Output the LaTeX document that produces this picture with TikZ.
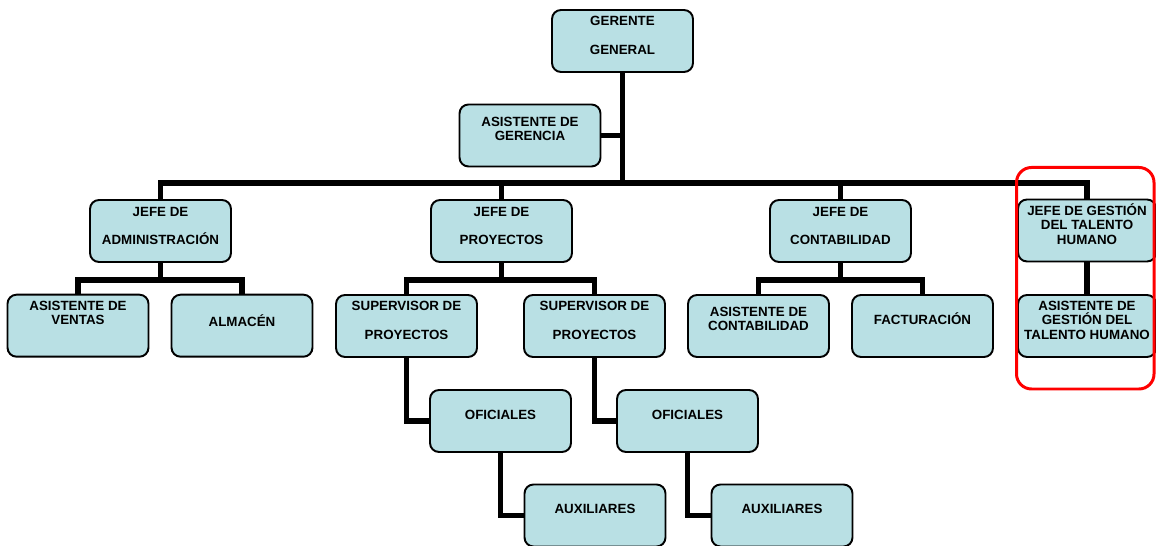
\documentclass[tikz,border=0pt]{standalone}
\usepackage{fontspec}
\setmainfont{Liberation Sans}
\usetikzlibrary{positioning, calc}
\definecolor{boxblue}{RGB}{185,224,228}
\tikzset{
    orgchart/.style={x=0.02cm, y=-0.02cm, line join=miter},
    box/.style={draw, fill=boxblue, rounded corners=0.18cm, line width=1.1pt,
        minimum width=2.82cm, minimum height=1.24cm, inner sep=0pt, align=center,
        font=\bfseries\fontsize{7.6}{8.2}\selectfont},
    wide/.style={font=\bfseries\fontsize{7.6}{16.4}\selectfont},
    lift/.style={text depth=#1},
    link/.style={line width=3.4pt},
    % red frame round the talento humano group
    highlight/.style={draw=red, line width=1.7pt, rounded corners=0.3cm},
}

\begin{document}
\begin{tikzpicture}[orgchart]
    \useasboundingbox (0,0) rectangle (1156,546);

    \node[box, wide, lift=0.24cm] (gg)   at (622.5,41)   {GERENTE\\GENERAL};
    \node[box, lift=0.26cm]       (asg)  at (530,135.5)  {ASISTENTE DE\\GERENCIA};

    \node[box, wide, lift=0.2cm]  (jadm) at (160.5,231)  {JEFE DE\\ADMINISTRACIÓN};
    \node[box, wide, lift=0.2cm]  (jpro) at (501.5,231)  {JEFE DE\\PROYECTOS};
    \node[box, wide, lift=0.2cm]  (jcon) at (840.5,231)  {JEFE DE\\CONTABILIDAD};
    \node[box, minimum width=2.76cm, lift=0.26cm] (jgth) at (1087,230.5) {JEFE DE GESTIÓN\\DEL TALENTO\\HUMANO};

    \node[box, lift=0.52cm]       (avta) at (78,325.7)   {ASISTENTE DE\\VENTAS};
    \node[box, lift=0.22cm]       (alm)  at (242,325.7)  {ALMACÉN};
    \node[box, wide, lift=0.24cm] (sup1) at (406.5,326)  {SUPERVISOR DE\\PROYECTOS};
    \node[box, wide, lift=0.24cm] (sup2) at (594.5,326)  {SUPERVISOR DE\\PROYECTOS};
    \node[box, lift=0.28cm]       (acon) at (758.5,326)  {ASISTENTE DE\\CONTABILIDAD};
    \node[box, lift=0.3cm]        (fac)  at (922.5,326)  {FACTURACIÓN};
    \node[box, minimum width=2.76cm, lift=0.24cm] (agth) at (1087,326) {ASISTENTE DE\\GESTIÓN DEL\\TALENTO HUMANO};

    \node[box, lift=0.24cm]       (ofi1) at (500.5,421)  {OFICIALES};
    \node[box, lift=0.24cm]       (ofi2) at (687.5,421)  {OFICIALES};
    \node[box, lift=0.26cm]       (aux1) at (595,515.5)  {AUXILIARES};
    \node[box, lift=0.26cm]       (aux2) at (782,515.5)  {AUXILIARES};

    % main trunk and bus
    \coordinate (bus) at (623,183);
    \draw[link] (gg.south) -- (gg.south |- bus);
    \draw[link] (asg.east) -- (asg.east -| gg.south);
    \draw[link] (jadm.north) |- (bus) -| (jgth.north);
    \draw[link] (jpro.north) -- (jpro.north |- bus);
    \draw[link] (jcon.north) -- (jcon.north |- bus);

    % second level
    \draw[link] (jadm.south) -- ++(0,17);
    \draw[link] (avta.north) |- ($(jadm.south)+(0,17)$) -| (alm.north);
    \draw[link] (jpro.south) -- ++(0,17);
    \draw[link] (sup1.north) |- ($(jpro.south)+(0,17)$) -| (sup2.north);
    \draw[link] (jcon.south) -- ++(0,17);
    \draw[link] (acon.north) |- ($(jcon.south)+(0,17)$) -| (fac.north);
    \draw[link] (jgth.south) -- (agth.north);

    % steps below the supervisors
    \draw[link] (sup1.south) |- (ofi1.west);
    \draw[link] (ofi1.south) |- (aux1.west);
    \draw[link] (sup2.south) |- (ofi2.west);
    \draw[link] (ofi2.south) |- (aux2.west);

    \draw[highlight] (1016.5,167.5) rectangle (1154,389);
\end{tikzpicture}
\end{document}
